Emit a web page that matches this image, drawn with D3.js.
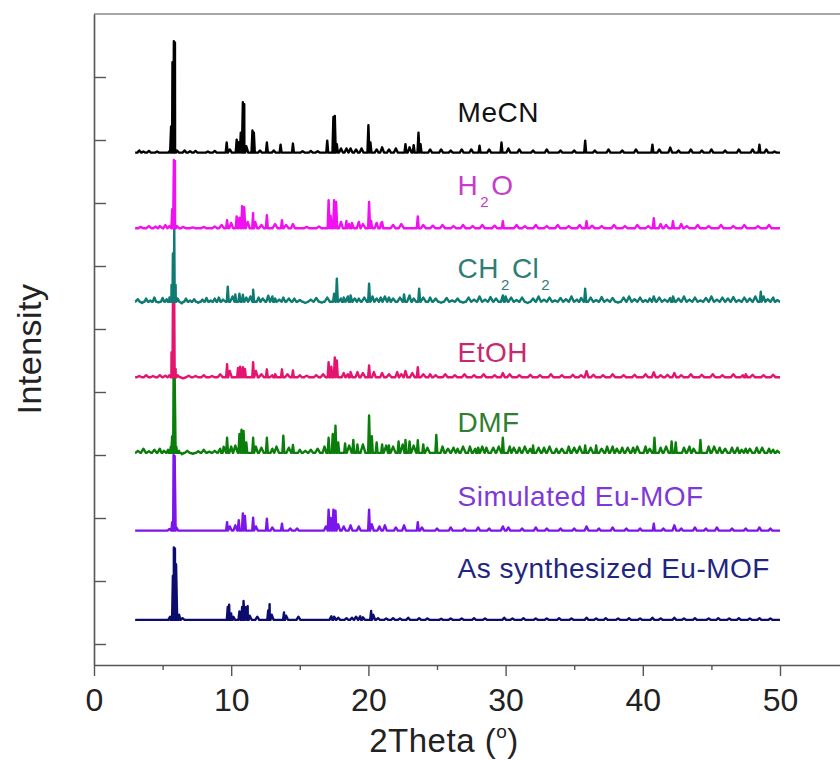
<!DOCTYPE html>
<html>
<head>
<meta charset="utf-8">
<script src="https://cdn.jsdelivr.net/npm/d3@7"></script>
<style>
body { margin: 0; background: #fff; }
svg text { font-family: "Liberation Sans", Arial, sans-serif; }
</style>
</head>
<body>
<svg id="chart" width="840" height="760"></svg>
<script>
// ---- data (2Theta in degrees, intensity in counts above each pattern's baseline) ----
var seriesNames = ['As synthesized Eu-MOF', 'Simulated Eu-MOF', 'DMF', 'EtOH', 'CH2Cl2', 'H2O', 'MeCN'];
var seriesOffsets = [1150, 5400, 9100, 12700, 16300, 19800, 23400];

var xTicksMajor = [0, 10, 20, 30, 40, 50];
var xTicksMinor = [5, 15, 25, 35, 45, 55];
var yTicks = [0, 3000, 6000, 9000, 12000, 15000, 18000, 21000, 24000, 27000];

// [2theta, height, (half width)]
var peaksAsSyn = [[5.55,150],[5.7,300],[5.75,2100],[5.82,3450],[5.9,3400],[5.98,2650],[6.05,400,0.12],[6.2,250,0.12],[6.45,80,0.15],
  [9.75,620],[9.85,720],[10.0,300,0.12],[10.15,150],[10.6,400],[10.8,620],[10.9,900],[11.05,600],[11.2,650],[11.35,200],[11.9,150],
  [12.7,450],[12.8,750],[12.95,250],[13.85,350],[14.0,200],[14.9,150],[17.3,170],[17.5,150],[17.8,100],[18.4,80],[18.8,100],
  [19.1,150],[19.4,170],[19.6,120],[20.2,420],[20.35,250],[20.7,80],[21.3,60],[21.8,80],[22.3,60],[22.9,100],[23.7,80],[24.3,60],
  [25.3,50],[26.0,60],[26.8,60],[27.7,80],[28.5,60],[29.9,100],[30.5,60],[31.3,80],[32.2,60],[33.0,60],[33.9,80],[34.8,60],
  [35.9,100],[36.6,60],[37.3,80],[38.2,60],[39.0,80],[39.8,60],[40.7,100],[41.3,60],[42.3,100],[43.0,60],[43.8,80],[44.8,60],
  [45.5,80],[46.3,60],[47.0,80],[47.8,60],[48.5,80],[49.3,60]];

var peaksSim = [[5.5,80],[5.7,400],[5.8,3600],[5.88,3550],[6.0,150],
  [9.7,400],[9.9,200],[10.3,250],[10.55,500],[10.85,820],[11.0,700],[11.6,620],[11.8,200],[12.6,570],[13.0,150],[13.7,330],
  [14.3,100],[14.8,100],[16.9,200],[17.1,1000],[17.25,600],[17.45,1000],[17.6,950],[17.8,300],[18.2,200],[18.7,250],[19.3,200],
  [20.05,1000],[20.25,300],[20.8,200],[21.2,250],[22.0,150],[22.6,250],[23.6,400],[23.9,150],[25.0,100],[26.0,150],[27.0,100],
  [28.0,150],[28.8,100],[29.8,200],[30.2,150],[31.2,100],[32.2,150],[33.0,100],[34.0,100],[35.0,100],[35.9,200],[36.8,100],
  [37.8,150],[38.8,100],[39.8,100],[40.8,330],[41.5,100],[42.3,250],[42.8,100],[43.8,150],[44.6,100],[45.4,150],[46.5,100],
  [47.5,100],[48.5,150],[49.3,100]];

var peaksDMF = [[5.4,150],[5.6,300],[5.7,800],[5.8,3600],[5.88,3600],[6.0,300],[6.2,100],
  [9.7,720],[10.0,300],[10.6,900],[10.75,1100],[10.9,1050],[11.1,500],[11.6,720],[11.8,300],[12.6,720],[13.0,200],[13.8,820],
  [14.5,380],[15.0,150],[16.8,300],[17.1,720],[17.4,900],[17.6,1300],[17.8,500],[18.3,450],[18.9,620],[19.2,400],[20.05,1780],
  [20.25,800],[20.6,500],[21.0,400],[21.5,350],[22.2,550],[22.7,620],[23.0,550],[23.6,600],[24.0,400],[24.95,860],[25.4,300],
  [26.5,200],[27.4,300],[28.0,250],[28.6,250],[29.8,720],[30.3,300],[31.0,250],[32.0,350],[32.8,250],[33.7,200],[34.6,300],
  [35.8,350],[36.6,350],[37.4,300],[38.5,250],[39.3,250],[40.2,300],[40.85,720],[41.3,250],[42.1,550],[42.4,500],[43.0,250],
  [44.2,620],[44.8,300],[45.6,250],[46.5,250],[47.5,200],[48.3,250],[49.2,200]];
var noiseDMF = [[3.2,100],[3.6,200],[4.0,80],[4.4,150],[4.8,200],[5.1,100],[6.4,-60],[6.8,100],[7.2,-40],[7.6,80],[8.0,150],
  [8.4,60],[8.8,100],[9.2,200],[9.45,300],[10.3,350],[12.2,250],[13.3,300],[14.2,250],[15.4,100],[15.8,150],[16.3,200],
  [18.6,350],[19.6,400],[21.3,350],[21.8,300],[22.5,400],[23.3,350],[24.3,250],[25.8,200],[26.2,250],[26.9,300],[27.8,200],
  [28.3,300],[29.1,250],[29.5,300],[30.6,250],[31.4,300],[31.8,200],[32.4,250],[33.2,300],[34.1,200],[35.0,250],[35.4,300],
  [36.2,250],[37.0,200],[37.8,300],[38.1,200],[38.9,250],[39.6,300],[40.5,200],[41.7,300],[43.4,300],[43.7,200],[45.2,300],
  [46.0,200],[46.9,250],[47.2,150],[47.8,200],[48.7,250],[49.5,150],[49.8,100]];

var peaksEtOH = [[5.5,100],[5.65,1200],[5.75,3500],[5.85,3600],[5.95,400],[6.1,100],
  [9.7,620],[9.9,300],[10.5,450],[10.65,500],[10.85,480],[11.0,400],[11.6,720],[11.8,300],[12.6,380],[13.2,150],[13.7,380],
  [14.5,330],[15.0,100],[17.1,720],[17.3,500],[17.55,950],[17.7,800],[18.2,200],[18.7,250],[19.2,250],[20.05,570],[20.4,250],
  [21.0,200],[22.1,250],[22.7,300],[23.6,480],[24.5,150],[29.8,200],[35.9,290],[40.8,240],[42.3,200],[47.5,150]];
var noiseEtOH = [[3.3,60],[3.8,100],[4.3,60],[4.8,100],[5.2,80],[6.5,-50],[6.9,80],[7.4,60],[8.0,100],[8.6,60],[9.2,150],
  [12.2,150],[13.0,100],[14.1,150],[15.5,80],[16.2,100],[16.7,150],[18.5,150],[19.6,200],[21.5,150],[22.4,150],[23.2,200],
  [24.0,150],[24.9,100],[25.6,150],[26.3,100],[27.0,150],[27.7,100],[28.4,150],[29.2,100],[30.3,150],[31.0,100],[31.8,120],
  [32.5,100],[33.3,150],[34.1,100],[34.9,120],[35.5,100],[36.4,120],[37.1,100],[37.8,150],[38.6,100],[39.4,120],[40.2,150],
  [41.3,100],[41.8,120],[42.8,100],[43.5,150],[44.3,120],[45.1,150],[45.8,100],[46.6,150],[47.3,100],[48.0,120],[48.8,100],
  [49.5,120]];

var peaksCH2Cl2 = [[5.5,200],[5.65,800],[5.75,2300],[5.85,3500],[5.95,800],[6.1,150],
  [9.75,720],[10.3,350],[10.6,380],[10.85,330],[11.1,200],[11.6,570],[12.0,200],[12.7,290],[13.2,150],[13.8,200],[14.6,150],
  [17.5,380],[17.7,1100],[18.2,200],[18.7,300],[19.3,150],[20.05,860],[20.3,250],[20.9,200],[21.5,200],[22.6,350],[23.7,620],
  [24.5,200],[29.8,300],[30.0,250],[35.8,620],[40.8,250],[42.2,250],[48.6,480],[48.8,250]];
var noiseCH2Cl2 = [[3.2,120],[3.5,-60],[3.8,150],[4.1,60],[4.4,200],[4.7,-40],[5.0,180],[5.3,120],[6.4,-80],[6.7,150],[7.0,60],
  [7.3,120],[7.6,-50],[7.9,100],[8.2,180],[8.5,60],[8.8,150],[9.1,200],[9.4,100],[10.1,250],[11.4,250],[12.3,150],[13.0,250],
  [13.5,100],[14.2,150],[15.0,80],[15.4,-60],[15.8,100],[16.2,180],[16.6,-40],[17.0,200],[18.0,150],[18.5,250],[19.0,150],
  [19.7,200],[20.6,150],[21.2,250],[21.8,150],[22.3,200],[23.0,300],[23.3,150],[24.0,200],[24.9,150],[25.3,-50],[25.7,180],
  [26.1,60],[26.5,150],[26.9,-40],[27.3,200],[27.7,100],[28.1,250],[28.5,100],[28.9,220],[29.3,150],[30.4,200],[30.8,80],
  [31.2,200],[31.6,-60],[32.0,150],[32.4,250],[32.8,100],[33.2,200],[33.6,60],[34.0,180],[34.4,120],[34.8,250],[35.2,100],
  [35.5,180],[36.2,200],[36.6,80],[37.0,220],[37.4,100],[37.8,180],[38.2,-40],[38.6,200],[39.0,250],[39.4,120],[39.8,200],
  [40.2,80],[40.5,150],[41.2,200],[41.6,100],[42.0,180],[42.6,150],[43.0,250],[43.4,100],[43.8,200],[44.2,60],[44.6,180],
  [45.0,250],[45.4,100],[45.8,200],[46.2,150],[46.6,220],[47.0,80],[47.4,200],[47.8,150],[48.2,250],[49.1,120],[49.5,200],
  [49.8,80]];

var peaksH2O = [[5.2,150],[5.5,100],[5.7,900],[5.82,3250],[5.9,3200],[6.05,100],
  [9.7,380],[10.0,250],[10.4,560],[10.6,500],[10.8,1050],[10.95,1000],[11.2,300],[11.6,720],[11.75,300],[12.6,620],[13.7,380],
  [14.5,200],[17.1,1330],[17.25,600],[17.5,1330],[17.65,1250],[18.0,300],[18.4,350],[18.8,250],[19.3,300],[20.05,1250],
  [20.2,350],[20.6,250],[21.0,300],[23.6,560],[29.8,330],[35.9,330],[40.8,480],[41.3,200],[42.2,330],[42.8,200]];
var noiseH2O = [[3.4,60],[4.0,100],[4.5,80],[4.8,100],[6.5,60],[7.2,40],[8.0,60],[8.8,80],[9.3,150],[12.2,150],[13.2,200],
  [14.0,150],[15.5,60],[16.4,80],[18.6,200],[19.6,200],[20.9,200],[21.8,150],[22.4,200],[24.0,150],[24.7,120],[25.4,150],
  [26.2,100],[26.9,150],[27.6,100],[28.3,150],[29.2,120],[30.8,150],[31.4,100],[32.2,150],[33.0,100],[33.8,150],[34.6,100],
  [35.4,150],[36.3,120],[37.0,100],[37.9,150],[38.7,100],[39.6,150],[40.4,100],[41.7,150],[43.2,100],[44.0,150],[44.8,100],
  [45.7,150],[46.6,100],[47.4,150],[48.4,100],[49.2,150]];

var peaksMeCN = [[3.3,100],[3.6,50],[4.0,80],[4.6,50],[5.55,100],[5.62,1250],[5.72,4300],[5.82,5300],[5.9,5250],[6.05,100],
  [6.6,100],[7.0,60],[7.4,80],[8.3,50],[8.8,80],[9.67,480],[9.9,150],[10.4,620],[10.55,500],[10.7,950],[10.85,2400],[10.95,2300],
  [11.1,300],[11.55,1050],[11.65,950],[12.1,100],[12.6,480],[13.1,100],[13.6,380],[14.5,430],[15.2,60],[15.8,80],[16.3,60],
  [17.0,570],[17.45,1700],[17.55,1750],[17.7,400],[18.0,200],[18.4,200],[18.7,200],[19.1,150],[19.5,200],[20.0,1300],[20.15,480],
  [20.6,150],[21.0,250],[21.5,150],[22.0,200],[22.7,400],[23.0,250],[23.3,350],[23.65,950],[23.8,400],[24.5,150],[25.3,150],
  [26.0,100],[26.8,150],[27.5,150],[28.1,330],[28.8,150],[29.7,480],[30.2,200],[31.0,150],[32.0,100],[33.0,150],[34.0,100],
  [35.0,100],[35.8,570],[36.5,100],[37.5,150],[38.5,100],[39.5,150],[40.7,380],[41.2,150],[42.0,240],[42.6,100],[43.5,150],
  [44.3,100],[45.0,150],[46.0,100],[47.0,150],[48.0,150],[48.5,380],[49.0,150],[49.6,50]];

var seriesPeaks = [peaksAsSyn, peaksSim, peaksDMF, peaksEtOH, peaksCH2Cl2, peaksH2O, peaksMeCN];
var seriesNoise = [[], [], noiseDMF, noiseEtOH, noiseCH2Cl2, noiseH2O, []];

// ---- styling / layout ----
var lineColors = ['#0c0c6e', '#7c14ec', '#0b7d0b', '#e5146e', '#0e7b73', '#f010f0', '#000000'];
var textColors = ['#1f2680', '#7f38d8', '#2f7f2f', '#c8286e', '#2f7d76', '#c83cc8', '#111111'];
var labelParts = [
  [['As synthesized Eu-MOF', 0]],
  [['Simulated Eu-MOF', 0]],
  [['DMF', 0]],
  [['EtOH', 0]],
  [['CH', 0], ['2', 1], ['Cl', 0], ['2', 1]],
  [['H', 0], ['2', 1], ['O', 0]],
  [['MeCN', 0]]
];
var labelTheta = 26.5;
var labelLevels = [3140, 6570, 10100, 13430, 17430, 21380, 24860];

var svg = d3.select('#chart');
var x = d3.scaleLinear().domain([0, 55]).range([94, 848.6]);
var y = d3.scaleLinear().domain([-1000, 30000]).range([665, 14]);

// build a spiky pattern from the read peak list
function buildTrace(peaks, noise) {
  var pts = [[3, 0], [50, 0]];
  peaks.forEach(function (p) {
    var hw = p[2] || (p[1] > 300 ? 0.07 : 0.14);
    pts.push([p[0] - hw, 0], [p[0], p[1]], [p[0] + hw, 0]);
  });
  noise.forEach(function (p) {
    pts.push([p[0] - 0.18, 0], [p[0], p[1]], [p[0] + 0.18, 0]);
  });
  pts = pts.filter(function (p) { return p[0] >= 3 && p[0] <= 50; });
  pts.sort(function (a, b) { return a[0] - b[0]; });
  return pts;
}

var line = d3.line();

seriesNames.forEach(function (name, i) {
  var pts = buildTrace(seriesPeaks[i], seriesNoise[i]);
  line.x(function (d) { return x(d[0]); })
      .y(function (d) { return y(d[1] + seriesOffsets[i]); });
  svg.append('path')
     .attr('d', line(pts))
     .attr('fill', 'none')
     .attr('stroke', lineColors[i])
     .attr('stroke-width', 2.4)
     .attr('stroke-linejoin', 'round');
});

// labels
labelParts.forEach(function (parts, i) {
  var t = svg.append('text')
     .attr('x', x(labelTheta))
     .attr('y', y(labelLevels[i]))
     .attr('fill', textColors[i])
     .style('font-size', '28px')
     .style('letter-spacing', '0.5px');
  var prevSub = 0;
  parts.forEach(function (p) {
    var ts = t.append('tspan').text(p[0]);
    if (p[1]) {
      ts.style('font-size', '15px').attr('dy', 12).attr('dx', 2);
    } else if (prevSub) {
      ts.attr('dy', -12).attr('dx', 2);
    }
    prevSub = p[1];
  });
});

// axes
var axisColor = '#555';
svg.append('line').attr('x1', x(0)).attr('x2', x(55)).attr('y1', y(30000)).attr('y2', y(30000))
   .attr('stroke', '#888').attr('stroke-width', 1.6);

var gx = svg.append('g').attr('transform', 'translate(0,' + y(-1000) + ')');
gx.call(d3.axisBottom(x).tickValues(xTicksMajor).tickSize(11).tickSizeOuter(0).tickPadding(12).tickFormat(d3.format('d')));
var gxm = svg.append('g').attr('transform', 'translate(0,' + y(-1000) + ')');
gxm.call(d3.axisBottom(x).tickValues(xTicksMinor).tickSize(5).tickSizeOuter(0).tickFormat(''));
gxm.select('.domain').remove();

var gy = svg.append('g').attr('transform', 'translate(' + x(0) + ',0)');
gy.call(d3.axisLeft(y).tickValues(yTicks).tickSize(-12).tickSizeOuter(0).tickFormat(''));

[gx, gxm, gy].forEach(function (g) {
  g.selectAll('.domain').attr('stroke', axisColor).attr('stroke-width', 1.6);
  g.selectAll('.tick line').attr('stroke', axisColor).attr('stroke-width', 1.4);
});
gx.selectAll('.tick text')
  .attr('fill', '#222')
  .style('font-size', '32px')
  .style('font-family', '"Liberation Sans", Arial, sans-serif');

// axis titles
var xt = svg.append('text')
   .attr('x', 444).attr('y', 752)
   .attr('text-anchor', 'middle')
   .attr('fill', '#222')
   .style('font-size', '33px')
   .style('letter-spacing', '0.5px');
xt.append('tspan').text('2Theta (');
xt.append('tspan').text('o').style('font-size', '19px').attr('dy', -14);
xt.append('tspan').text(')').attr('dy', 14);

svg.append('text')
   .attr('transform', 'translate(41,349) rotate(-90)')
   .attr('text-anchor', 'middle')
   .attr('fill', '#222')
   .style('font-size', '34px')
   .style('letter-spacing', '0.5px')
   .text('Intensity');
</script>
</body>
</html>
